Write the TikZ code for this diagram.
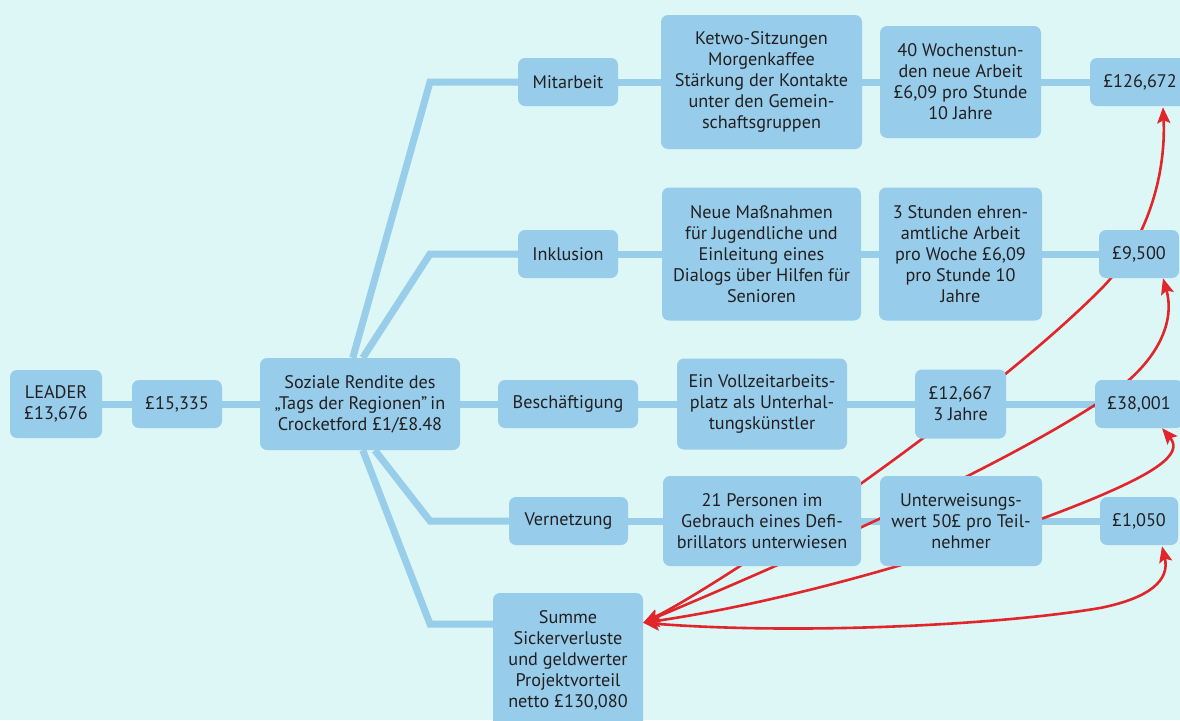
\documentclass[tikz,border=0pt]{standalone}
\usepackage{fontspec}
\setmainfont{PT Sans}
\usetikzlibrary{arrows.meta,calc}
\definecolor{bgc}{HTML}{DDF6F6}
\definecolor{boxc}{HTML}{97CDEA}
\definecolor{linec}{HTML}{99CEEA}
\definecolor{redc}{HTML}{E0262A}
\definecolor{txtc}{HTML}{231F20}
\pgfdeclarelayer{bg}
\pgfdeclarelayer{mid}
\pgfsetlayers{bg,mid,main}
\begin{document}
\begin{tikzpicture}[x=1pt,y=-1pt,
  bx/.style 2 args={fill=boxc, rounded corners=7pt, minimum width=#1pt, minimum height=#2pt,
    inner sep=0pt, align=center, text=txtc, font=\fontsize{18.2}{21}\selectfont},
  conn/.style={draw=linec, line width=7pt, line join=miter},
  redarr/.style={draw=redc, line width=2.6pt,
    {Stealth[length=16pt,width=13pt,inset=3pt]}-{Stealth[length=16pt,width=13pt,inset=3pt]}}]
\useasboundingbox (0,0) rectangle (1180,720);
\begin{pgfonlayer}{bg}
  \fill[bgc] (0,0) rectangle (1180,720);
\end{pgfonlayer}
\clip (0,0) rectangle (1180,720);

% nodes
\node[bx={92}{68}] (leader) at (56,404) {LEADER\\£13,676};
\node[bx={90}{48}] (v15) at (177,404) {£15,335};
\node[bx={200}{92}] (soz) at (360,404) {Soziale Rendite des\\„Tags der Regionen”\,in\\Crocketford £1/£8.48};
\node[bx={100}{48}] (mit) at (568,82) {Mitarbeit};
\node[bx={100}{48}] (ink) at (568,254) {Inklusion};
\node[bx={140}{48}] (besch) at (568,404) {Beschäftigung};
\node[bx={119}{48}] (vern) at (568.5,521) {Vernetzung};
\node[bx={150}{135}] (summe) at (568,660.5) {Summe\\Sickerverluste\\und geldwerter\\Projektvorteil\\netto £130,080};
\node[bx={201}{134}] (ketwo) at (761.5,82) {Ketwo-Sitzungen\\Morgenkaffee\\Stärkung der Kontakte\\unter den Gemein-\\schaftsgruppen};
\node[bx={199}{133}] (neue) at (761.5,254) {Neue Maßnahmen\\für Jugendliche und\\Einleitung eines\\Dialogs über Hilfen für\\Senioren};
\node[bx={170}{91}] (vz) at (762,404) {Ein Vollzeitarbeits-\\platz als Unterhal-\\tungskünstler};
\node[bx={198}{90}] (pers) at (762,521) {21 Personen im\\Gebrauch eines Defi-\\brillators unterwiesen};
\node[bx={161}{112}] (wo) at (960.5,82) {40 Wochenstun-\\den neue Arbeit\\£6,09 pro Stunde\\10 Jahre};
\node[bx={163}{133}] (std) at (960.5,254) {3 Stunden ehren-\\amtliche Arbeit\\pro Woche £6,09\\pro Stunde 10\\Jahre};
\node[bx={91}{69}] (v12) at (960.5,404) {£12,667\\3 Jahre};
\node[bx={162}{90}] (unt) at (961,521) {Unterweisungs-\\wert 50£ pro Teil-\\nehmer};
\node[bx={100}{48}] (v1) at (1140,82) {£126,672};
\node[bx={80}{48}] (v2) at (1139,254) {£9,500};
\node[bx={88}{48}] (v3) at (1139,404) {£38,001};
\node[bx={78}{48}] (v4) at (1139,521) {£1,050};

\coordinate (b1) at (430,82);
\coordinate (b2) at (430,254);
\coordinate (b4) at (430,521);
\coordinate (b5) at (430,624);

\begin{pgfonlayer}{mid}
  % blue tree connectors
  \draw[conn] (leader) -- (v15);
  \draw[conn] (v15) -- (soz);
  \draw[conn] ([xshift=93pt]soz.north west) -- (b1) -- (mit);
  \draw[conn] ([xshift=103pt]soz.north west) -- (b2) -- (ink);
  \draw[conn] (soz) -- (besch);
  \draw[conn] ([xshift=115pt]soz.south west) -- (b4) -- (vern);
  \draw[conn] ([xshift=103pt]soz.south west) -- (b5) -- (b5 -| summe.west);
  \draw[conn] (mit) -- (ketwo) -- (wo) -- (v1);
  \draw[conn] (ink) -- (neue) -- (std) -- (v2);
  \draw[conn] (besch) -- (vz) -- (v12) -- (v3);
  \draw[conn] (vern) -- (pers) -- (unt) -- (v4);
  % red arrows
  \draw[redarr] ([yshift=-30pt]summe.north east) .. controls (720,585) and (980,410) .. (1100,290)
     .. controls (1150,240) and (1166,170) .. ([xshift=23pt,yshift=-1pt]v1.south);
  \draw[redarr] ([yshift=-30pt]summe.north east) .. controls (780,565) and (1000,470) .. (1110,395)
     .. controls (1160,360) and (1175,320) .. ([xshift=24pt]v2.south);
  \draw[redarr] ([yshift=-30pt]summe.north east) .. controls (800,600) and (980,545) .. (1090,500)
     .. controls (1150,475) and (1185,455) .. ([xshift=23pt]v3.south);
  \draw[redarr] ([yshift=-30pt]summe.north east) .. controls (800,635) and (1000,625) .. (1100,608)
     .. controls (1150,598) and (1170,580) .. ([xshift=23pt,yshift=-1pt]v4.south);
\end{pgfonlayer}
\end{tikzpicture}
\end{document}
